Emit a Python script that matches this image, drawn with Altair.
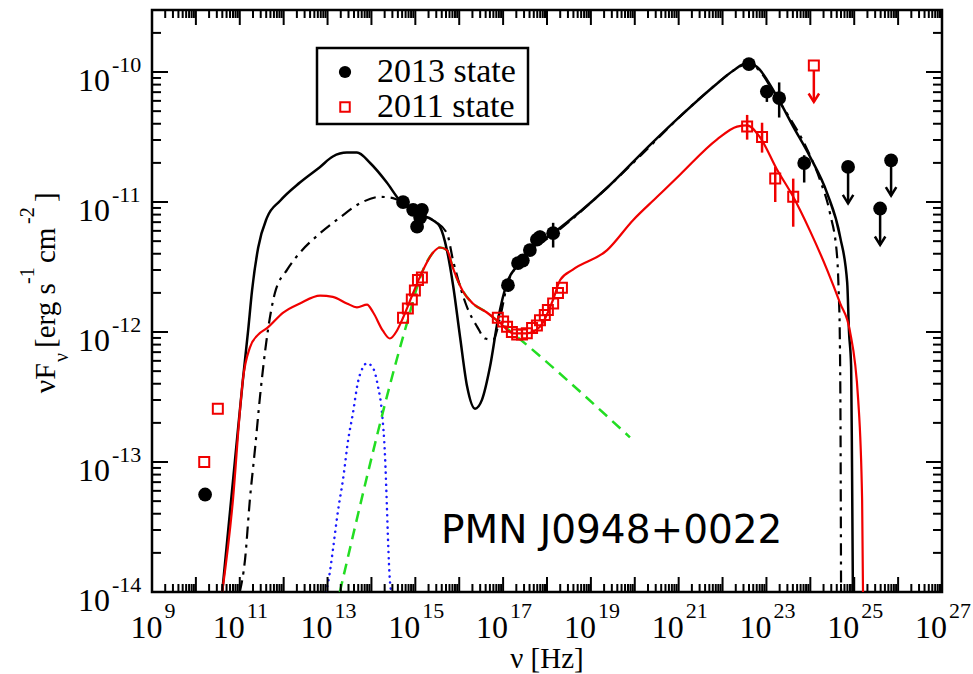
import altair as alt
import pandas as pd

W, H = 790, 582

# ---------------- model curves: log10(nu [Hz]) , log10(nuFnu [erg s-1 cm-2]) ----------------
tot2013_lognu = [10.60, 10.89, 11.07, 11.19, 11.28, 11.42, 11.62, 11.92, 12.37, 12.83, 13.12, 13.44,
                 13.67, 13.97, 14.35, 14.65, 15.04, 15.40, 15.56, 15.72, 15.86, 16.02, 16.18, 16.36,
                 16.52, 16.70, 16.88, 17.09, 17.32, 17.61, 18.14, 19.37, 20.35, 21.10, 21.87, 22.24,
                 22.56, 22.78, 23.24, 23.61, 23.99, 24.38, 24.68, 24.84, 24.88, 24.93, 24.95, 24.97]
tot2013_logf = [-14.0, -12.99, -12.37, -11.99, -11.68, -11.35, -11.12, -10.99, -10.85, -10.73, -10.65, -10.62,
                -10.62, -10.70, -10.85, -10.99, -11.09, -11.14, -11.19, -11.37, -11.64, -12.04, -12.42, -12.59,
                -12.52, -12.27, -11.91, -11.62, -11.49, -11.37, -11.24, -10.89, -10.56, -10.32, -10.09, -9.99,
                -9.93, -9.96, -10.19, -10.42, -10.65, -10.93, -11.27, -11.62, -11.99, -12.27, -13.04, -14.0]

alt2013_lognu = [11.00, 11.12, 11.23, 11.35, 11.46, 11.58, 11.64, 11.80, 12.08, 12.37, 12.83, 13.28,
                 13.74, 14.20, 14.49, 14.95, 15.40, 15.72, 15.86, 16.02, 16.18, 16.41, 16.59, 16.77,
                 16.93, 17.09, 17.32, 17.61, 18.14, 19.37, 20.35, 21.10, 21.87, 22.24, 22.56, 22.78,
                 23.24, 23.47, 23.92, 24.22, 24.45, 24.61, 24.65, 24.67, 24.69, 24.70]
alt2013_logf = [-14.0, -13.75, -13.29, -12.89, -12.50, -12.14, -11.99, -11.70, -11.52, -11.39, -11.24, -11.12,
                -11.01, -10.96, -10.97, -11.06, -11.14, -11.24, -11.45, -11.65, -11.81, -11.96, -12.05, -12.06,
                -11.89, -11.64, -11.49, -11.38, -11.25, -10.89, -10.57, -10.32, -10.09, -9.99, -9.94, -9.97,
                -10.20, -10.32, -10.59, -10.83, -11.09, -11.42, -11.73, -11.99, -12.91, -14.0]

tot2011_lognu = [10.60, 10.85, 11.00, 11.07, 11.23, 11.42, 11.62, 11.99, 12.37, 12.83, 13.12, 13.44,
                 13.67, 13.90, 14.04, 14.26, 14.42, 14.58, 14.72, 14.95, 15.18, 15.40, 15.56, 15.72,
                 15.86, 16.09, 16.31, 16.63, 16.93, 17.23, 17.54, 17.84, 18.14, 18.30, 18.59, 19.37,
                 19.96, 20.51, 21.03, 21.87, 22.33, 22.56, 22.85, 23.24, 23.61, 23.99, 24.38, 24.68,
                 24.90, 25.09, 25.18, 25.20]
tot2011_logf = [-14.0, -13.27, -12.62, -12.37, -12.12, -12.02, -11.97, -11.85, -11.78, -11.72, -11.73, -11.78,
                -11.81, -11.79, -11.85, -11.99, -12.05, -11.99, -11.89, -11.70, -11.52, -11.39, -11.35, -11.37,
                -11.51, -11.69, -11.78, -11.85, -11.93, -12.01, -12.01, -11.96, -11.75, -11.60, -11.52, -11.37,
                -11.14, -10.96, -10.79, -10.52, -10.42, -10.41, -10.50, -10.75, -10.96, -11.22, -11.52, -11.78,
                -11.99, -12.52, -13.29, -14.0]

disk_lognu = [13.28, 14.76, 15.18, 15.40, 15.56, 15.72, 15.86, 16.09, 16.31, 16.63, 16.93, 19.89]
disk_logf = [-14.0, -11.99, -11.52, -11.39, -11.35, -11.37, -11.51, -11.69, -11.78, -11.85, -11.93, -12.81]

torus_lognu = [12.96, 13.01, 13.06, 13.12, 13.24, 13.35, 13.47, 13.58, 13.69, 13.81, 13.90, 14.04,
               14.15, 14.24, 14.31, 14.35, 14.38, 14.42, 14.45]
torus_logf = [-14.0, -13.93, -13.83, -13.68, -13.37, -13.14, -12.83, -12.62, -12.39, -12.27, -12.24, -12.28,
              -12.42, -12.62, -12.96, -13.32, -13.62, -13.91, -14.0]

# ---------------- observed points ----------------
s2013_lognu = [10.21, 14.72, 14.95, 15.15, 15.11, 15.04, 17.11, 17.34, 17.45, 17.61, 17.77, 17.84,
               18.14, 22.60, 23.01, 23.29, 23.86]
s2013_logf = [-13.25, -11.00, -11.06, -11.06, -11.12, -11.19, -11.64, -11.47, -11.45, -11.37, -11.29, -11.27,
              -11.24, -9.94, -10.15, -10.20, -10.70]
e2013_lognu = [17.61, 17.84, 18.14, 23.01, 23.29, 23.86]
e2013_lo = [-11.41, -11.32, -11.35, -10.23, -10.35, -10.85]
e2013_hi = [-11.33, -11.22, -11.16, -10.10, -10.08, -10.64]
ul2013_lognu = [24.86, 25.59, 25.84]
ul2013_logf = [-10.73, -11.05, -10.68]
ul2013_tip = [-11.01, -11.33, -10.95]

s2011_lognu = [10.19, 10.50, 14.72, 14.83, 14.92, 14.99, 15.06, 15.15, 16.88, 17.00, 17.09, 17.20,
               17.32, 17.43, 17.54, 17.66, 17.77, 17.84, 17.95, 18.02, 18.14, 18.25, 18.34,
               22.56, 22.90, 23.20, 23.61]
s2011_logf = [-13.00, -12.59, -11.89, -11.82, -11.75, -11.68, -11.60, -11.58, -11.89, -11.92, -11.96, -12.00,
              -12.02, -12.02, -12.01, -11.97, -11.95, -11.91, -11.87, -11.83, -11.78, -11.70, -11.66,
              -10.42, -10.50, -10.82, -10.96]
e2011_lognu = [22.56, 22.90, 23.20, 23.61]
e2011_lo = [-10.52, -10.62, -11.00, -11.19]
e2011_hi = [-10.33, -10.39, -10.73, -10.82]
ul2011_lognu = [24.08]
ul2011_logf = [-9.95]
ul2011_tip = [-10.23]

# ---------------- axes ----------------
x_major = [10.0 ** k for k in range(9, 28)]
x_minor = [m * 10.0 ** k for k in range(9, 27) for m in range(2, 10)]
y_major = [10.0 ** k for k in range(-14, -9)]
y_minor = [m * 10.0 ** k for k in range(-14, -9) for m in range(2, 10) if m * 10.0 ** k < 3e-10]
x_lab_1 = [1e9]
x_exp_1 = ["9"]
x_lab_2 = [1e11, 1e13, 1e15, 1e17, 1e19, 1e21, 1e23, 1e25, 1e27]
x_exp_2 = ["11", "13", "15", "17", "19", "21", "23", "25", "27"]
y_lab = [1e-14, 1e-13, 1e-12, 1e-11, 1e-10]
y_exp = ["-14", "-13", "-12", "-11", "-10"]

xs = alt.Scale(type="log", domain=[1e9, 1e27], nice=False)
ys = alt.Scale(type="log", domain=[1e-14, 3e-10], nice=False)
SERIF = "Liberation Serif"
RED = "#f00000"
X = lambda f: alt.X(f, scale=xs, axis=None)
Y = lambda f: alt.Y(f, scale=ys, axis=None)


def curve(lognu, logf):
    return pd.DataFrame({"nu": [10.0 ** a for a in lognu],
                         "f": [10.0 ** b for b in logf],
                         "i": list(range(len(lognu)))})


def line(df, color, width, dash=None, cap="butt"):
    kw = dict(color=color, strokeWidth=width, clip=True, interpolate="monotone", strokeCap=cap)
    if dash:
        kw["strokeDash"] = dash
    return alt.Chart(df).mark_line(**kw).encode(x=X("nu:Q"), y=Y("f:Q"), order="i:Q")


def pts(lognu, logf):
    return pd.DataFrame({"nu": [10.0 ** a for a in lognu], "f": [10.0 ** b for b in logf]})


def bars(lognu, lo, hi):
    return pd.DataFrame({"nu": [10.0 ** a for a in lognu],
                         "lo": [10.0 ** b for b in lo],
                         "hi": [10.0 ** b for b in hi]})


def errbars(df, color):
    return alt.Chart(df).mark_rule(color=color, strokeWidth=2.5).encode(
        x=X("nu:Q"), y=Y("lo:Q"), y2="hi:Q")


CHEVRON = "M-1,-1.6L0,0L1,-1.6"


def ulims(lognu, logf, tip, color, marker):
    df = pd.DataFrame({"nu": [10.0 ** a for a in lognu],
                       "f": [10.0 ** b for b in logf],
                       "t": [10.0 ** b for b in tip]})
    r = alt.Chart(df).mark_rule(color=color, strokeWidth=2.5).encode(
        x=X("nu:Q"), y=Y("f:Q"), y2="t:Q")
    h = alt.Chart(df).mark_point(shape=CHEVRON, filled=False, size=110, color=color,
                                 strokeWidth=2.5, opacity=1).encode(x=X("nu:Q"), y=Y("t:Q"))
    if marker == "circle":
        m = alt.Chart(df).mark_point(shape="circle", filled=True, size=190, color=color,
                                     opacity=1).encode(x=X("nu:Q"), y=Y("f:Q"))
    else:
        m = alt.Chart(df).mark_point(shape="square", filled=True, size=100, fill="white",
                                     stroke=color, strokeWidth=2, opacity=1).encode(x=X("nu:Q"), y=Y("f:Q"))
    return r + h + m


one = pd.DataFrame({"a": [0]})

layers = []
layers.append(line(curve(torus_lognu, torus_logf), "#1a1aff", 2.5, dash=[0.1, 6], cap="round"))
layers.append(line(curve(disk_lognu, disk_logf), "#22dd22", 2.5, dash=[11, 7]))
layers.append(line(curve(alt2013_lognu, alt2013_logf), "black", 2.2, dash=[12, 6, 3, 6]))
layers.append(line(curve(tot2013_lognu, tot2013_logf), "black", 2.5))
layers.append(line(curve(tot2011_lognu, tot2011_logf), RED, 2.2))

layers.append(errbars(bars(e2011_lognu, e2011_lo, e2011_hi), RED))
layers.append(alt.Chart(pts(s2011_lognu, s2011_logf)).mark_point(
    shape="square", filled=False, size=100, color=RED, strokeWidth=2, opacity=1).encode(
    x=X("nu:Q"), y=Y("f:Q")))
layers.append(ulims(ul2011_lognu, ul2011_logf, ul2011_tip, RED, "square"))

layers.append(errbars(bars(e2013_lognu, e2013_lo, e2013_hi), "black"))
layers.append(alt.Chart(pts(s2013_lognu, s2013_logf)).mark_point(
    shape="circle", filled=True, size=190, color="black", opacity=1).encode(
    x=X("nu:Q"), y=Y("f:Q")))
layers.append(ulims(ul2013_lognu, ul2013_logf, ul2013_tip, "black", "circle"))

# ---------------- inward ticks on all four sides ----------------
xmaj = pd.DataFrame({"v": x_major})
xmin = pd.DataFrame({"v": x_minor})
ymaj = pd.DataFrame({"v": y_major})
ymin = pd.DataFrame({"v": y_minor})
for df, ln in ((xmaj, 15), (xmin, 8)):
    layers.append(alt.Chart(df).mark_rule(color="black", strokeWidth=2).encode(
        x=X("v:Q"), y=alt.value(H), y2=alt.value(H - ln)))
    layers.append(alt.Chart(df).mark_rule(color="black", strokeWidth=2).encode(
        x=X("v:Q"), y=alt.value(0), y2=alt.value(ln)))
for df, ln in ((ymaj, 16), (ymin, 9)):
    layers.append(alt.Chart(df).mark_rule(color="black", strokeWidth=2).encode(
        y=Y("v:Q"), x=alt.value(0), x2=alt.value(ln)))
    layers.append(alt.Chart(df).mark_rule(color="black", strokeWidth=2).encode(
        y=Y("v:Q"), x=alt.value(W), x2=alt.value(W - ln)))

# ---------------- tick labels 10^n ----------------
for vals, exps, dx10 in ((x_lab_1, x_exp_1, 10.5), (x_lab_2, x_exp_2, 5)):
    df = pd.DataFrame({"v": vals, "e": exps})
    layers.append(alt.Chart(df).mark_text(align="right", baseline="alphabetic", font=SERIF,
                                          fontSize=32, dx=dx10, color="black").encode(
        x=X("v:Q"), y=alt.value(H + 46), text=alt.value("10")))
    layers.append(alt.Chart(df).mark_text(align="left", baseline="alphabetic", font=SERIF,
                                          fontSize=22, dx=dx10 + 2, color="black").encode(
        x=X("v:Q"), y=alt.value(H + 26), text="e:N"))

ydf = pd.DataFrame({"v": y_lab, "e": y_exp})
layers.append(alt.Chart(ydf).mark_text(align="right", baseline="alphabetic", font=SERIF,
                                       fontSize=32, dy=19, color="black").encode(
    y=Y("v:Q"), x=alt.value(-42), text=alt.value("10")))
layers.append(alt.Chart(ydf).mark_text(align="left", baseline="alphabetic", font=SERIF,
                                       fontSize=22, dy=0, color="black").encode(
    y=Y("v:Q"), x=alt.value(-40), text="e:N"))

# ---------------- axis titles ----------------
layers.append(alt.Chart(one).mark_text(align="center", baseline="alphabetic", font=SERIF,
                                       fontSize=29, color="black").encode(
    x=alt.value(W / 2), y=alt.value(H + 76), text=alt.value("ν [Hz]")))

# (text, size, x, y, align) -- rotated pieces, reading bottom to top
ytitle = [("νF", 30, -106, 353, "right"), ("ν", 20, -90, 352, "left"), ("[erg s", 29, -106, 338, "left"),
          ("-1", 20, -124, 274, "left"), ("cm", 29, -106, 253, "left"), ("-2", 20, -124, 214, "left"),
          ("]", 29, -106, 192, "left")]
for txt, fs, px, py, al in ytitle:
    layers.append(alt.Chart(one).mark_text(align=al, baseline="middle", angle=270, font=SERIF,
                                           fontSize=fs, color="black").encode(
        x=alt.value(px), y=alt.value(py), text=alt.value(txt)))

# ---------------- legend ----------------
layers.append(alt.Chart(one).mark_rect(fill="white", stroke="black", strokeWidth=2.5).encode(
    x=alt.value(165), x2=alt.value(376), y=alt.value(38), y2=alt.value(114)))
layers.append(alt.Chart(one).mark_point(shape="circle", filled=True, size=150, color="black",
                                        opacity=1).encode(x=alt.value(193), y=alt.value(62)))
layers.append(alt.Chart(one).mark_point(shape="square", filled=False, size=90, color=RED,
                                        strokeWidth=2, opacity=1).encode(x=alt.value(193), y=alt.value(97)))
layers.append(alt.Chart(one).mark_text(align="left", baseline="middle", font=SERIF, fontSize=34,
                                       color="black").encode(
    x=alt.value(225), y=alt.value(62), text=alt.value("2013 state")))
layers.append(alt.Chart(one).mark_text(align="left", baseline="middle", font=SERIF, fontSize=34,
                                       color="black").encode(
    x=alt.value(225), y=alt.value(97), text=alt.value("2011 state")))

# ---------------- source label ----------------
layers.append(alt.Chart(one).mark_text(align="left", baseline="middle", font="DejaVu Sans",
                                       fontSize=39, color="black").encode(
    x=alt.value(289), y=alt.value(521), text=alt.value("PMN J0948+0022")))

chart = alt.layer(*layers).properties(
    width=W, height=H,
    padding={"left": 152, "top": 10, "right": 31, "bottom": 82},
    autosize=alt.AutoSizeParams(type="none"),
    background="white",
).configure_view(stroke="black", strokeWidth=2.5)

chart.save("out.html", embed_options={"renderer": "svg", "actions": False})
